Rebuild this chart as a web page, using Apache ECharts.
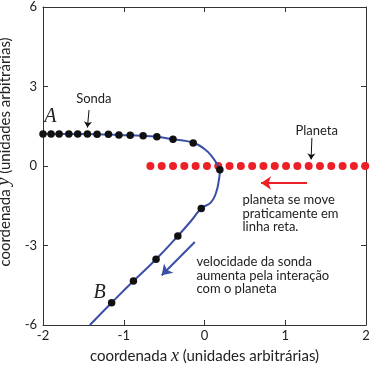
<!DOCTYPE html>
<html>
<head>
<meta charset="utf-8">
<script src="https://cdn.jsdelivr.net/npm/echarts@6/dist/echarts.min.js"></script>
<style>html,body{margin:0;padding:0;background:#fff;}#c{width:373px;height:371px;}</style>
</head>
<body>
<div id="c"></div>
<script>
// Tick labels
var xTicks = [-2, -1, 0, 1, 2];
var yTicks = [-6, -3, 0, 3, 6];
// Probe positions (black dots)
var probeX = [-2.00, -1.90, -1.80, -1.68, -1.57, -1.45, -1.33, -1.19, -1.06, -0.92, -0.76, -0.59, -0.39, -0.14, 0.19, -0.04, -0.33, -0.60, -0.88, -1.15];
var probeY = [1.21, 1.21, 1.21, 1.21, 1.21, 1.21, 1.20, 1.20, 1.17, 1.16, 1.14, 1.10, 1.01, 0.87, -0.14, -1.60, -2.64, -3.52, -4.34, -5.16];
// Probe trajectory (blue curve)
var pathX = [-2.02, -1.80, -1.57, -1.33, -1.06, -0.76, -0.59, -0.39, -0.14, 0.00, 0.10, 0.165, 0.19, 0.18, 0.145, 0.08, -0.04, -0.15, -0.33, -0.60, -0.88, -1.15, -1.42];
var pathY = [1.22, 1.21, 1.21, 1.20, 1.17, 1.14, 1.10, 1.01, 0.88, 0.64, 0.33, 0.01, -0.18, -0.49, -0.99, -1.37, -1.60, -2.01, -2.64, -3.52, -4.34, -5.16, -6.00];
// Planet positions (red dots, y = 0)
var planetX = [-0.67, -0.53, -0.39, -0.25, -0.11, 0.03, 0.17, 0.31, 0.45, 0.59, 0.73, 0.87, 1.01, 1.15, 1.29, 1.43, 1.57, 1.71, 1.85, 1.99];

var probeData = probeX.map(function (x, i) { return [x, probeY[i]]; });
var pathData = pathX.map(function (x, i) { return [x, pathY[i]]; });
var planetData = planetX.map(function (x) { return [x, 0]; });

var FONT = 'Lato';
var AX = '#333';
var BLUE = '#3a4ea6';
var RED = '#ee2027';

function textPoint(coord, text, opts) {
  return {
    coord: coord, symbol: 'circle', symbolSize: 0,
    label: Object.assign({
      show: true, formatter: text, position: 'inside',
      color: '#222', fontFamily: FONT, fontSize: 13, lineHeight: 13.5
    }, opts || {})
  };
}

var chart = echarts.init(document.getElementById('c'), null, { renderer: 'canvas' });
var baseAxis = {
  axisLine: { show: true, onZero: false, lineStyle: { color: AX, width: 1 } },
  axisTick: { show: true, inside: true, length: 5, lineStyle: { color: AX } },
  splitLine: { show: false }
};
chart.setOption({
  animation: false,
  backgroundColor: '#fff',
  grid: { left: 43, right: 7, top: 7, bottom: 46, containLabel: false, outerBoundsMode: 'none' },
  xAxis: [
    Object.assign({}, baseAxis, {
      type: 'value', min: xTicks[0], max: xTicks[xTicks.length - 1], interval: 1, position: 'bottom',
      axisLabel: { color: '#222', fontFamily: FONT, fontSize: 13, margin: 4 },
      name: 'coordenada {i|x} (unidades arbitrárias)', nameLocation: 'middle', nameGap: 22,
      nameTextStyle: { color: '#222', fontFamily: FONT, fontSize: 15,
        rich: { i: { fontFamily: 'Liberation Serif', fontStyle: 'italic', fontSize: 18, color: '#222' } } }
    }),
    Object.assign({}, baseAxis, {
      type: 'value', min: xTicks[0], max: xTicks[xTicks.length - 1], interval: 1, position: 'top',
      axisLabel: { show: false }
    })
  ],
  yAxis: [
    Object.assign({}, baseAxis, {
      type: 'value', min: yTicks[0], max: yTicks[yTicks.length - 1], interval: 3, position: 'left',
      axisLabel: { color: '#222', fontFamily: FONT, fontSize: 13, margin: 6 },
      name: 'coordenada {i|y} (unidades arbitrárias)', nameLocation: 'middle', nameGap: 20,
      nameTextStyle: { color: '#222', fontFamily: FONT, fontSize: 15, padding: [0, 0, 0, 28],
        rich: { i: { fontFamily: 'Liberation Serif', fontStyle: 'italic', fontSize: 18, color: '#222' } } }
    }),
    Object.assign({}, baseAxis, {
      type: 'value', min: yTicks[0], max: yTicks[yTicks.length - 1], interval: 3, position: 'right',
      axisLabel: { show: false }
    })
  ],
  series: [
    {
      type: 'scatter', data: planetData, symbol: 'circle', symbolSize: 8,
      itemStyle: { color: RED, opacity: 1 }, z: 2
    },
    {
      type: 'line', data: pathData, smooth: 0.5, showSymbol: false, symbol: 'none',
      lineStyle: { color: BLUE, width: 2 }, clip: true, z: 3
    },
    {
      type: 'scatter', data: probeData, symbol: 'circle', symbolSize: 7.5,
      itemStyle: { color: '#111', opacity: 1 }, z: 4,
      markLine: {
        silent: true, animation: false, symbolSize: [0, 7],
        label: { show: false },
        data: [
          [{ coord: [-1.43, 2.11], symbol: 'none', lineStyle: { color: '#111', width: 1, type: 'solid' } },
           { coord: [-1.45, 1.45], symbol: 'arrow', symbolSize: 6 }],
          [{ coord: [1.33, 1.06], symbol: 'none', lineStyle: { color: '#111', width: 1, type: 'solid' } },
           { coord: [1.32, 0.25], symbol: 'arrow', symbolSize: 6 }],
          [{ coord: [1.27, -0.64], symbol: 'none', lineStyle: { color: RED, width: 2, type: 'solid' } },
           { coord: [0.70, -0.64], symbol: 'arrow', symbolSize: 10 }],
          [{ coord: [-0.12, -2.87], symbol: 'none', lineStyle: { color: BLUE, width: 2, type: 'solid' } },
           { coord: [-0.53, -4.12], symbol: 'arrow', symbolSize: 10 }]
        ]
      },
      markPoint: {
        silent: true, animation: false,
        data: [
          textPoint([-1.91, 1.85], 'A', { fontFamily: 'Liberation Serif', fontStyle: 'italic', fontSize: 20, color: '#222' }),
          textPoint([-1.30, -4.79], 'B', { fontFamily: 'Liberation Serif', fontStyle: 'italic', fontSize: 20, color: '#222' }),
          textPoint([-1.37, 2.53], 'Sonda'),
          textPoint([1.39, 1.32], 'Planeta'),
          textPoint([0.47, -1.79], 'planeta se move\npraticamente em\nlinha reta.', { position: 'right', distance: 0, align: 'left' }),
          textPoint([-0.10, -4.13], 'velocidade da sonda\naumenta pela interação\ncom o planeta', { position: 'right', distance: 0, align: 'left' })
        ]
      }
    }
  ]
});
</script>
</body>
</html>
